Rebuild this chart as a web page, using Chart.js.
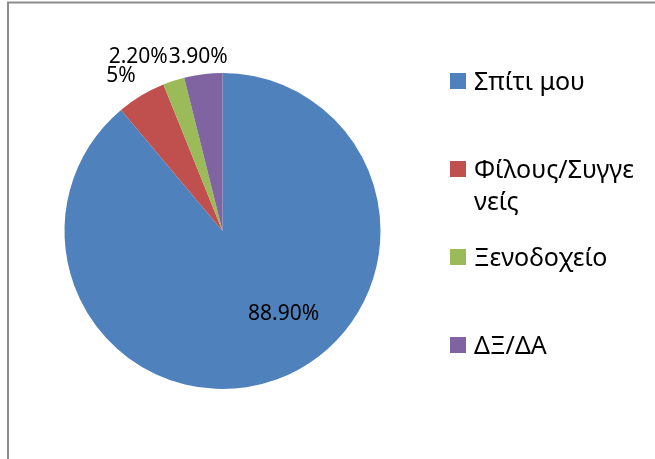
<!DOCTYPE html>
<html>
<head>
<meta charset="utf-8">
<script src="https://cdn.jsdelivr.net/npm/chart.js@4.4.0/dist/chart.umd.min.js"></script>
<style>
body { margin: 0; background: #fff; }
#grafico { display: block; }
</style>
</head>
<body>
<canvas id="grafico" width="655" height="459"></canvas>
<script>
const categorias = ['Σπίτι μου', 'Φίλους/Συγγενείς', 'Ξενοδοχείο', 'ΔΞ/ΔΑ'];
const porcentajes = [88.9, 5, 2.2, 3.9];
const etiquetas = ['88.90%', '5%', '2.20%', '3.90%'];
const colores = ['#4F81BD', '#C0504D', '#9BBB59', '#8064A2'];

// pequeños desplazamientos de las etiquetas (como las coloca Excel)
const ajustes = [[26, -14], [-8, 1], [-28, -1], [-2, 7]];

const ctx = document.getElementById('grafico').getContext('2d');
const fuente = '"Noto Sans", "DejaVu Sans", sans-serif';

// marco gris del gráfico
const marcoPlugin = {
    id: 'marco',
    beforeDraw(chart) {
        const c = chart.ctx;
        c.save();
        c.strokeStyle = '#8c8c8c';
        c.lineWidth = 2;
        c.beginPath();
        c.moveTo(8, 459);
        c.lineTo(8, 2.5);
        c.lineTo(655, 2.5);
        c.stroke();
        c.restore();
    }
};

// etiquetas de porcentaje
const etiquetasPlugin = {
    id: 'etiquetas',
    afterDatasetsDraw(chart) {
        const c = chart.ctx;
        const arcos = chart.getDatasetMeta(0).data;
        c.save();
        c.font = '21px ' + fuente;
        c.fillStyle = '#000';
        c.textAlign = 'center';
        c.textBaseline = 'middle';
        arcos.forEach((arco, i) => {
            const medio = (arco.startAngle + arco.endAngle) / 2;
            const d = i === 0 ? arco.outerRadius * 0.65 : arco.outerRadius + 24;
            const x = arco.x + Math.cos(medio) * d + ajustes[i][0];
            const y = arco.y + Math.sin(medio) * d + ajustes[i][1];
            c.fillText(etiquetas[i], x, y);
        });
        c.restore();
    }
};

// leyenda a la derecha, con texto partido por caracteres
const leyendaPlugin = {
    id: 'leyenda',
    afterDraw(chart) {
        const c = chart.ctx;
        const maxAncho = 160;
        c.save();
        c.font = '25px ' + fuente;
        c.textAlign = 'left';
        c.textBaseline = 'alphabetic';
        chart.data.labels.forEach((texto, i) => {
            const yc = 81 + i * 88;
            c.fillStyle = colores[i];
            c.fillRect(450, yc - 8, 16, 16);
            // partir el texto
            const lineas = [];
            let actual = '';
            for (const ch of texto) {
                if (c.measureText(actual + ch).width > maxAncho && actual) {
                    lineas.push(actual);
                    actual = ch;
                } else {
                    actual += ch;
                }
            }
            lineas.push(actual);
            c.fillStyle = '#000';
            lineas.forEach((l, j) => c.fillText(l, 474, yc + 9 + j * 32));
        });
        c.restore();
    }
};

new Chart(ctx, {
    type: 'pie',
    data: {
        labels: categorias,
        datasets: [{
            data: porcentajes,
            backgroundColor: colores,
            borderWidth: 0
        }]
    },
    options: {
        responsive: false,
        animation: false,
        layout: {
            padding: { left: 64.5, top: 73, right: 274.5, bottom: 70 }
        },
        plugins: {
            legend: { display: false },
            tooltip: { enabled: false }
        }
    },
    plugins: [marcoPlugin, etiquetasPlugin, leyendaPlugin]
});
</script>
</body>
</html>
